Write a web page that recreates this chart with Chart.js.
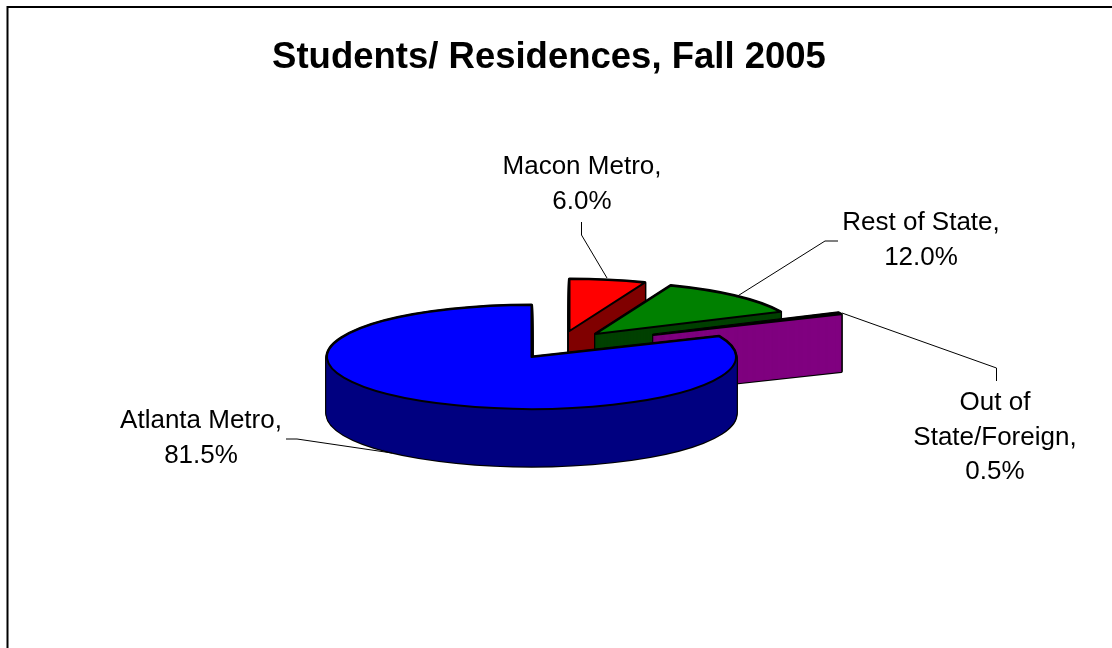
<!DOCTYPE html>
<html><head><meta charset="utf-8">
<style>html,body{margin:0;padding:0;background:#fff}#wrap{position:relative;width:1112px;height:648px}</style>
<script src="https://cdn.jsdelivr.net/npm/chart.js@4/dist/chart.umd.min.js"></script>
</head><body><div id="wrap"><canvas id="c" width="1112" height="648"></canvas></div>
<script>
const titleText = 'Students/ Residences, Fall 2005';
const categories = ['Macon Metro', 'Rest of State', 'Out of State/Foreign', 'Atlanta Metro'];
const shares = [6.0, 12.0, 0.5, 81.5];
const topColors = ['#ff0000', '#008000', '#ff00ff', '#0000ff'];
const wallColors = ['#800000', '#004000', '#800080', '#000080'];
const explodeX = [38, 64, 122, 0];
const explodeY = [-26, -23, -22, 0];
const labelLines = [['Macon Metro,', '6.0%'], ['Rest of State,', '12.0%'], ['Out of', 'State/Foreign,', '0.5%'], ['Atlanta Metro,', '81.5%']];
const labelCenterX = [582, 921, 995, 201];
const labelBaseY = [174, 230, 410, 428];
const leaders = [[[581.5,222],[581.5,235],[607,278]], [[838,241],[825,241],[736,297]], [[996.5,381],[996.5,368],[842,313]], [[286,439],[297,439],[392,453]]];
const SQUASH = 52 / 204.5, DEPTH = 57, SHIFT_X = -17.5;

const pie3d = {
  id: 'pie3d',
  beforeDatasetsDraw(chart) {
    const ctx = chart.ctx, arcs = chart.getDatasetMeta(0).data;
    const path = (a, i, d) => {
      const p = a.getProps(['x','y','startAngle','endAngle','outerRadius'], true);
      const x = p.x + SHIFT_X + explodeX[i], y = p.y + explodeY[i] + d;
      ctx.beginPath();
      ctx.moveTo(x, y);
      ctx.ellipse(x, y, p.outerRadius, p.outerRadius * SQUASH, 0, p.startAngle, p.endAngle);
      ctx.closePath();
    };
    ctx.save();
    ctx.lineJoin = 'round';
    ctx.strokeStyle = '#000';
    arcs.forEach((a, i) => {
      ctx.lineWidth = 3.2;
      ctx.strokeStyle = '#000';
      for (let d = DEPTH; d >= 0; d--) { path(a, i, d); ctx.stroke(); }
      ctx.lineWidth = 1;
      ctx.strokeStyle = wallColors[i];
      ctx.fillStyle = wallColors[i];
      for (let d = DEPTH; d >= 0; d--) { path(a, i, d); ctx.fill(); ctx.stroke(); }
      path(a, i, 0);
      ctx.fillStyle = topColors[i];
      ctx.fill();
      ctx.lineWidth = 2;
      ctx.strokeStyle = '#000';
      ctx.stroke();
    });
    ctx.restore();
    return false;
  },
  afterDraw(chart) {
    const ctx = chart.ctx;
    ctx.save();
    ctx.strokeStyle = '#000';
    ctx.lineWidth = 2;
    ctx.beginPath();
    ctx.moveTo(7.5, 648); ctx.lineTo(7.5, 7); ctx.lineTo(1112, 7);
    ctx.stroke();
    ctx.lineWidth = 1;
    leaders.forEach(l => {
      ctx.beginPath();
      l.forEach((q, i) => i ? ctx.lineTo(q[0], q[1]) : ctx.moveTo(q[0], q[1]));
      ctx.stroke();
    });
    ctx.fillStyle = '#000';
    ctx.font = '26px Arial, "Liberation Sans", sans-serif';
    ctx.textAlign = 'center';
    ctx.textBaseline = 'alphabetic';
    labelLines.forEach((ls, i) => ls.forEach((t, j) => ctx.fillText(t, labelCenterX[i], labelBaseY[i] + j * 34.5)));
    ctx.restore();
  }
};

new Chart(document.getElementById('c'), {
  type: 'pie',
  data: { labels: categories, datasets: [{ data: shares, backgroundColor: topColors, borderWidth: 0 }] },
  options: {
    responsive: false, animation: false,
    layout: { padding: { left: 0, right: 14, top: 0, bottom: 86.5 } },
    plugins: {
      legend: { display: false }, tooltip: { enabled: false },
      title: { display: true, text: titleText, color: '#000', align: 'center',
        font: { family: 'Arial, "Liberation Sans", sans-serif', size: 36.5, weight: 'bold', lineHeight: 1.2 }, padding: { top: 36, bottom: 72.7 } }
    }
  },
  plugins: [pie3d]
});
</script></body></html>
